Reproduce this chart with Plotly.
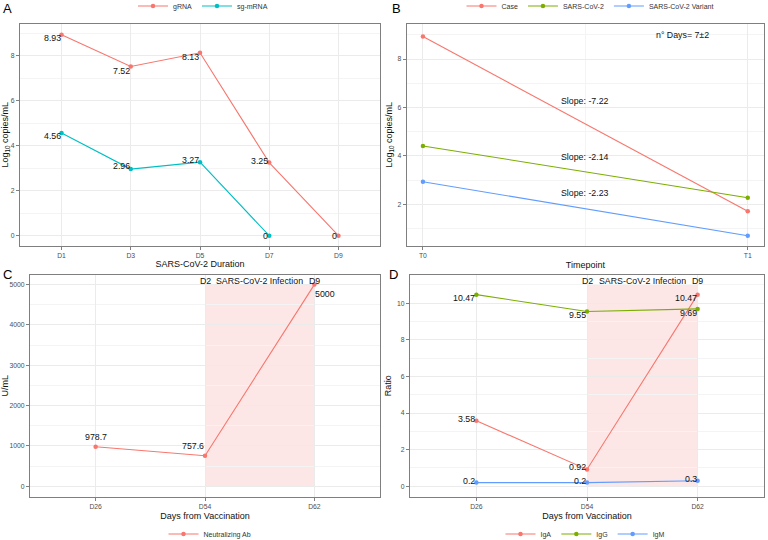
import plotly.graph_objects as go

# ---------------- data ----------------
# Panel A
a_days = ["D1", "D3", "D5", "D7", "D9"]
a_grna = [8.93, 7.52, 8.13, 3.25, 0]
a_sg_days = ["D1", "D3", "D5", "D7"]
a_sg = [4.56, 2.96, 3.27, 0]

# Panel B
b_x = [0, 1]
b_ticks = ["T0", "T1"]
b_case = [8.93, 1.71]
b_cov = [4.41, 2.27]
b_var = [2.93, 0.70]
b_note = "n° Days= 7±2"

# Panel C
c_days = ["D26", "D54", "D62"]
c_nab = [978.7, 757.6, 5000]

# Panel D
d_days = ["D26", "D54", "D62"]
d_iga = [3.58, 0.92, 10.47]
d_igg = [10.47, 9.55, 9.69]
d_igm = [0.2, 0.2, 0.3]

infection_start = "D54"
infection_end = "D62"
infection_labels = ["D2", "SARS-CoV-2 Infection", "D9"]
c_rect_top = 5000
d_rect_top = 11

# ---------------- style ----------------
RED = "#F8766D"
TEAL = "#00BFC4"
GREEN = "#7CAE00"
BLUE = "#619CFF"
FONT = "Liberation Sans, Arial, sans-serif"
W, H = 768, 540

def px_x(p):
    return p / W

def px_y(p):
    return 1 - p / H

fig = go.Figure()

def add_line(x, y, name, color, xa, ya, legend):
    fig.add_trace(go.Scatter(
        x=x, y=y, name=name, mode="lines+markers",
        line=dict(color=color, width=1.1),
        marker=dict(color=color, size=4.5),
        xaxis=xa, yaxis=ya, legend=legend,
    ))

add_line(a_days, a_grna, "gRNA", RED, "x", "y", "legend")
add_line(a_sg_days, a_sg, "sg-mRNA", TEAL, "x", "y", "legend")

add_line(b_x, b_case, "Case", RED, "x2", "y2", "legend2")
add_line(b_x, b_cov, "SARS-CoV-2", GREEN, "x2", "y2", "legend2")
add_line(b_x, b_var, "SARS-CoV-2 Variant", BLUE, "x2", "y2", "legend2")

add_line(c_days, c_nab, "Neutralizing Ab", RED, "x3", "y3", "legend3")

add_line(d_days, d_iga, "IgA", RED, "x4", "y4", "legend4")
add_line(d_days, d_igg, "IgG", GREEN, "x4", "y4", "legend4")
add_line(d_days, d_igm, "IgM", BLUE, "x4", "y4", "legend4")

annotations = []

def value_labels(xs, ys, xa, ya, anchors, shifts, size=8.8):
    for x, y, anc, sh in zip(xs, ys, anchors, shifts):
        annotations.append(dict(
            x=x, y=y, xref=xa, yref=ya, text=f"{y:g}", showarrow=False,
            xanchor=anc, yanchor="middle", yshift=sh,
            xshift=(1 if anc == "right" else (-1 if anc == "left" else 0)),
            font=dict(family=FONT, size=size, color="#111111"),
        ))

value_labels(a_days, a_grna, "x", "y", ["right"] * 5, [-3, -4, -4, 2, 0])
value_labels(a_sg_days, a_sg, "x", "y", ["right"] * 4, [-3, 3, 2, 0])
value_labels(c_days, c_nab, "x3", "y3", ["center", "right", "left"], [10, 10, -9])
value_labels(d_days, d_iga, "x4", "y4", ["right"] * 3, [2, 2, -3])
value_labels(d_days, d_igg, "x4", "y4", ["right"] * 3, [-3, -4, -4])
value_labels(d_days, d_igm, "x4", "y4", ["right"] * 3, [2, 2, 2])

# slope labels in B
slopes = [b_case[1] - b_case[0], b_cov[1] - b_cov[0], b_var[1] - b_var[0]]
slope_y = [6.28, 3.97, 2.45]
for s, yy in zip(slopes, slope_y):
    annotations.append(dict(x=0.5, y=yy, xref="x2", yref="y2", text=f"Slope: {s:.2f}",
                            showarrow=False, font=dict(family=FONT, size=8.8, color="#111111")))
annotations.append(dict(x=0.8, y=9.0, xref="x2", yref="y2", text=b_note, showarrow=False,
                        font=dict(family=FONT, size=8.8, color="#111111")))

# infection rectangles and labels
shapes = []
for xa, ya, top in [("x3", "y3", c_rect_top), ("x4", "y4", d_rect_top)]:
    shapes.append(dict(type="rect", xref=xa, yref=ya, x0=infection_start, x1=infection_end,
                       y0=0, y1=top, fillcolor="rgba(240,128,128,0.2)", line=dict(width=0),
                       layer="below"))
    mid = 1.5  # midpoint between D54 and D62 category positions
    for xx, txt in zip([infection_start, mid, infection_end], infection_labels):
        annotations.append(dict(x=xx, y=top, xref=xa, yref=ya, text=txt, showarrow=False,
                                yanchor="middle", yshift=4,
                                font=dict(family=FONT, size=8.8, color="#111111")))

# panel letters
for letter, px, py in [("A", 1, 8), ("B", 390, 8), ("C", 1, 274), ("D", 387, 274)]:
    annotations.append(dict(x=px_x(px), y=px_y(py), xref="paper", yref="paper", text=letter,
                            showarrow=False, xanchor="left", yanchor="middle",
                            font=dict(family=FONT, size=13, color="black")))

axis_common = dict(
    showline=True, mirror=True, linecolor="#7F7F7F", linewidth=1,
    showgrid=True, gridcolor="#EBEBEB", gridwidth=1,
    zeroline=False, ticks="outside", ticklen=3, tickcolor="#7F7F7F",
    tickfont=dict(family=FONT, size=6.8, color="#4D4D4D"),
    title_font=dict(family=FONT, size=9, color="#111111"),
    automargin=False,
)
minor_grid = dict(showgrid=True, gridcolor="#F4F4F4", gridwidth=0.5, ticks="")

yA = [px_y(245.6), px_y(24)]
yC = [px_y(496.7), px_y(274.7)]

fig.update_layout(
    width=W, height=H, margin=dict(l=0, r=0, t=0, b=0, autoexpand=False),
    paper_bgcolor="white", plot_bgcolor="white",
    font=dict(family=FONT),
    xaxis=dict(axis_common, domain=[px_x(20), px_x(380)], anchor="y", type="category",
               categoryorder="array", categoryarray=a_days, range=[-0.6, 4.6],
               title=dict(text="SARS-CoV-2 Duration", standoff=2)),
    yaxis=dict(axis_common, domain=yA, anchor="x", range=[-0.44, 9.41], dtick=2,
               minor=dict(minor_grid, dtick=1),
               title=dict(text="Log<sub>10</sub> copies/mL", standoff=3)),
    xaxis2=dict(axis_common, domain=[px_x(406.7), px_x(764)], anchor="y2",
                range=[-0.05, 1.05], tickvals=b_x, ticktext=b_ticks,
                minor=dict(minor_grid, tickvals=[0.5]),
                title=dict(text="Timepoint", standoff=3)),
    yaxis2=dict(axis_common, domain=yA, anchor="x2", range=[0.29, 9.45],
                tickvals=[2, 4, 6, 8], minor=dict(minor_grid, tickvals=[1, 3, 5, 7, 9]),
                title=dict(text="Log<sub>10</sub> copies/mL", standoff=3)),
    xaxis3=dict(axis_common, domain=[px_x(30), px_x(380)], anchor="y3", type="category",
                categoryorder="array", categoryarray=c_days, range=[-0.6, 2.6],
                title=dict(text="Days from Vaccination", standoff=3)),
    yaxis3=dict(axis_common, domain=yC, anchor="x3", range=[-258, 5246], dtick=1000,
                minor=dict(minor_grid, dtick=500),
                title=dict(text="U/mL", standoff=3)),
    xaxis4=dict(axis_common, domain=[px_x(410), px_x(764)], anchor="y4", type="category",
                categoryorder="array", categoryarray=d_days, range=[-0.6, 2.6],
                title=dict(text="Days from Vaccination", standoff=3)),
    yaxis4=dict(axis_common, domain=yC, anchor="x4", range=[-0.57, 11.56], dtick=2,
                minor=dict(minor_grid, dtick=1),
                title=dict(text="Ratio", standoff=3)),
    annotations=annotations,
    shapes=shapes,
)

legend_common = dict(orientation="h", xanchor="center", yanchor="middle",
                     font=dict(family=FONT, size=7, color="#333333"),
                     bgcolor="rgba(0,0,0,0)", itemwidth=30, tracegroupgap=0)
fig.update_layout(
    legend=dict(legend_common, x=px_x(203), y=px_y(6)),
    legend2=dict(legend_common, x=px_x(590), y=px_y(6)),
    legend3=dict(legend_common, x=px_x(210), y=px_y(534)),
    legend4=dict(legend_common, x=px_x(585), y=px_y(534)),
)

fig.write_html(
    "out.html",
    config={"displayModeBar": False},
    post_script="document.body.style.margin='0px'; document.body.style.overflow='hidden';",
)
